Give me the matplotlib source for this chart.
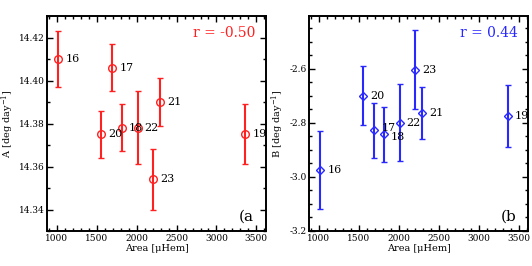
import matplotlib.pyplot as plt
from matplotlib.ticker import MultipleLocator

# -----------------------------------------
# data
# -----------------------------------------
labels = ["16", "20", "17", "18", "22", "23", "21", "19"]
area = [1020, 1557, 1695, 1812, 2012, 2203, 2295, 3361]

a_val = [14.410, 14.375, 14.406, 14.378, 14.378, 14.354, 14.390, 14.375]
a_err = [0.013, 0.011, 0.011, 0.011, 0.017, 0.014, 0.011, 0.014]

b_val = [-2.975, -2.699, -2.828, -2.842, -2.800, -2.604, -2.765, -2.775]
b_err = [0.145, 0.110, 0.102, 0.101, 0.142, 0.146, 0.096, 0.116]

r_a = -0.50
r_b = 0.44

red = "#ff2020"
blue = "#2828ff"

plt.rcParams["font.family"] = ["DejaVu Serif"]
plt.rcParams["mathtext.fontset"] = "dejavuserif"

fig = plt.figure(figsize=(5.32, 2.66), dpi=100)
ax1 = fig.add_axes([0.0889, 0.1316, 0.411, 0.808])
ax2 = fig.add_axes([0.5814, 0.1316, 0.4117, 0.808])


def style_axis(ax, ymajor, yminor):
    ax.set_xlim(880, 3620)
    ax.xaxis.set_major_locator(MultipleLocator(500))
    ax.xaxis.set_minor_locator(MultipleLocator(100))
    ax.yaxis.set_major_locator(MultipleLocator(ymajor))
    ax.yaxis.set_minor_locator(MultipleLocator(yminor))
    ax.tick_params(which="both", direction="in", top=True, right=True,
                   labelsize=6.5, width=1.0, pad=2)
    ax.tick_params(which="major", length=4)
    ax.tick_params(which="minor", length=2)
    for sp in ax.spines.values():
        sp.set_linewidth(1.4)
    ax.set_xlabel("Area [μHem]", fontsize=7, labelpad=1)


# -----------------------------------------
# panel (a)
# -----------------------------------------
ax1.errorbar(area, a_val, yerr=a_err, fmt="o", color=red, mfc="none",
             ms=5.5, mew=1.0, elinewidth=1.5, capsize=2.5, capthick=1.2)
for x, y, t in zip(area, a_val, labels):
    ax1.annotate(t, (x, y), xytext=(5, 0), textcoords="offset points",
                 va="center", ha="left", fontsize=8)
style_axis(ax1, 0.02, 0.01)
ax1.set_ylim(14.33, 14.43)
ax1.yaxis.set_major_formatter(plt.FormatStrFormatter("%.2f"))
ax1.set_ylabel("A [deg day$^{-1}$]", fontsize=7, labelpad=2)
ax1.text(0.95, 0.92, "r = %.2f" % r_a, color=red, fontsize=10,
         ha="right", va="center", transform=ax1.transAxes)
ax1.text(0.945, 0.065, "(a", fontsize=11, ha="right", va="center",
         transform=ax1.transAxes)

# -----------------------------------------
# panel (b)
# -----------------------------------------
ax2.errorbar(area, b_val, yerr=b_err, fmt="D", color=blue, mfc="none",
             ms=4.5, mew=1.0, elinewidth=1.5, capsize=2.5, capthick=1.2)
b_dy = {"17": 2, "18": -2}
for x, y, t in zip(area, b_val, labels):
    ax2.annotate(t, (x, y), xytext=(5, b_dy.get(t, 0)), textcoords="offset points",
                 va="center", ha="left", fontsize=8)
style_axis(ax2, 0.2, 0.05)
ax2.set_ylim(-3.2, -2.405)
ax2.yaxis.set_major_formatter(plt.FormatStrFormatter("%.1f"))
ax2.set_ylabel("B [deg day$^{-1}$]", fontsize=7, labelpad=2)
ax2.text(0.95, 0.92, "r = %.2f" % r_b, color=blue, fontsize=10,
         ha="right", va="center", transform=ax2.transAxes)
ax2.text(0.945, 0.065, "(b", fontsize=11, ha="right", va="center",
         transform=ax2.transAxes)

fig.savefig("out.png", dpi=100)
